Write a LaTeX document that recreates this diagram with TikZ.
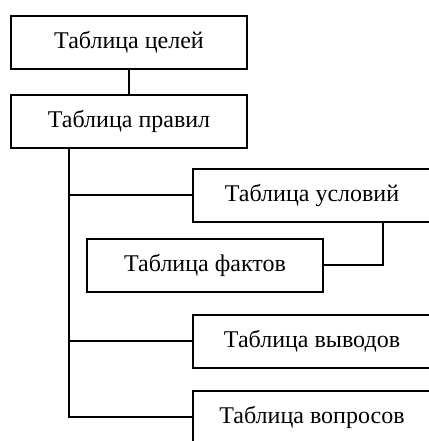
\documentclass[tikz,border=0pt]{standalone}
\usepackage{fontspec}
\setmainfont{Liberation Serif}
\begin{document}
\begin{tikzpicture}[x=0.75pt,y=0.75pt,
  tbox/.style={rectangle,minimum width=177pt,minimum height=39.75pt,inner sep=0pt,font=\fontsize{18}{21}\selectfont},
  wbox/.style={tbox,minimum width=178.5pt},
  conn/.style={line width=1.5pt},
  frame/.style={line width=1.5pt,line join=miter}]
\useasboundingbox (0,0) rectangle (428,441);
\node[tbox] (goal) at (129,398.5) {Таблица целей};
\node[tbox] (rule) at (129,319.5) {Таблица правил};
\node[wbox] (cond) at (312,245.5) {Таблица условий};
\node[tbox] (fact) at (205,175.5) {Таблица фактов};
\node[wbox] (concl) at (312,99.5) {Таблица выводов};
\node[wbox] (quest) at (312,23.5) {Таблица вопросов};
\foreach \n in {goal,rule,fact}
  \draw[frame] (\n.north west) -- (\n.north east) -- (\n.south east) -- (\n.south west) -- cycle;
\foreach \n in {cond,concl}
  \draw[frame] (\n.north east) -- (\n.north west) -- (\n.south west) -- (\n.south east);
\draw[frame] (quest.north east) -- (quest.north west) -- (quest.south west);
\coordinate (tr) at (69,0);
\coordinate (rc) at (383,0);
\draw[conn] (goal) -- (rule);
\draw[conn] (rule.south -| tr) |- (quest.west);
\draw[conn] (tr |- cond.west) -- (cond.west);
\draw[conn] (tr |- concl.west) -- (concl.west);
\draw[conn] (cond.south -| rc) |- (fact.east);
\end{tikzpicture}
\end{document}
